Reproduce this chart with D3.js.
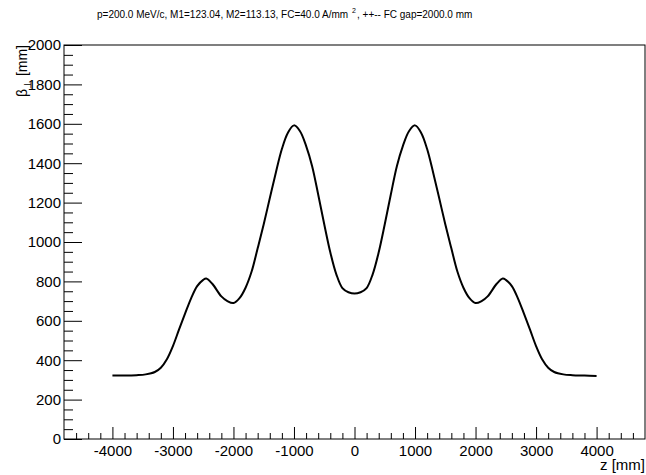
<!DOCTYPE html>
<html>
<head>
<meta charset="utf-8">
<script src="https://cdn.jsdelivr.net/npm/d3@7"></script>
<style>
  body { margin: 0; background: #fff; }
  text { font-family: "Liberation Sans", Arial, sans-serif; fill: #000; }
</style>
</head>
<body>
<svg id="chart" width="646" height="475"></svg>
<script>
// beta function along z
var zValues = [-4000, -3800, -3600, -3450, -3300, -3200, -3100, -3000, -2900, -2800, -2700, -2600, -2500, -2450, -2350, -2200, -2100, -2000, -1900, -1800, -1700, -1600, -1500, -1400, -1300, -1200, -1100, -1000, -900, -800, -700, -600, -500, -400, -300, -200, -100, 0,
  100, 200, 300, 400, 500, 600, 700, 800, 900, 1000, 1100, 1200, 1300, 1400, 1500, 1600, 1700, 1800, 1900, 2000, 2100, 2200, 2350, 2450, 2500, 2600, 2700, 2800, 2900, 3000, 3100, 3200, 3300, 3450, 3600, 3800, 4000];
var betaValues = [322, 322, 324, 328, 340, 362, 405, 472, 555, 636, 714, 776, 808, 815, 788, 724, 700, 690, 715, 768, 850, 968, 1090, 1222, 1352, 1472, 1555, 1592, 1562, 1488, 1385, 1241, 1090, 948, 836, 766, 745, 738,
  745, 766, 836, 948, 1090, 1241, 1385, 1488, 1562, 1592, 1555, 1472, 1352, 1222, 1090, 968, 850, 768, 715, 690, 700, 724, 788, 815, 808, 776, 714, 636, 555, 472, 405, 362, 340, 328, 324, 322, 320];

var xMajor = [-4000, -3000, -2000, -1000, 0, 1000, 2000, 3000, 4000];
var yMajor = [0, 200, 400, 600, 800, 1000, 1200, 1400, 1600, 1800, 2000];

var titleMain = "p=200.0 MeV/c, M1=123.04, M2=113.13, FC=40.0 A/mm";
var titleSup = "2";
var titleRest = ", ++-- FC gap=2000.0 mm";

var svg = d3.select("#chart");
var padL = 64, padR = 645, padT = 45, padB = 439;

var x = d3.scaleLinear().domain([-4800, 4800]).range([padL, padR]);
var y = d3.scaleLinear().domain([0, 2000]).range([padB, padT]);

// plain hyphen minus like the original
var fmt = function(d){ return String(d); };

// minor ticks every 200 on x, 50 on y
var xMinor = d3.range(-4600, 4800, 200).filter(function(v){ return v % 1000 !== 0; });
var yMinor = d3.range(50, 2000, 50).filter(function(v){ return v % 200 !== 0; });

svg.append("g")
  .attr("transform", "translate(0," + padB + ")")
  .call(d3.axisBottom(x).tickValues(xMinor).tickSizeInner(-6).tickSizeOuter(0).tickFormat(""));
svg.append("g")
  .attr("transform", "translate(0," + padB + ")")
  .call(d3.axisBottom(x).tickValues(xMajor).tickSizeInner(-12).tickSizeOuter(0).tickPadding(6).tickFormat(fmt))
  .call(function(g){ g.selectAll("text").style("font-size", "15px"); });

svg.append("g")
  .attr("transform", "translate(" + padL + ",0)")
  .call(d3.axisLeft(y).tickValues(yMinor).tickSizeInner(-9).tickSizeOuter(0).tickFormat(""));
svg.append("g")
  .attr("transform", "translate(" + padL + ",0)")
  .call(d3.axisLeft(y).tickValues(yMajor).tickSizeInner(-18).tickSizeOuter(0).tickPadding(3).tickFormat(fmt))
  .call(function(g){ g.selectAll("text").style("font-size", "15px"); });

svg.selectAll(".domain").remove();
svg.selectAll(".tick line").attr("stroke", "#000");
svg.selectAll(".tick text").attr("fill", "#000");

svg.append("rect")
  .attr("x", padL).attr("y", padT)
  .attr("width", padR - padL).attr("height", padB - padT)
  .attr("fill", "none").attr("stroke", "#000").attr("stroke-width", 1);

var line = d3.line()
  .x(function(d, i){ return x(zValues[i]); })
  .y(function(d){ return y(d); })
  .curve(d3.curveCatmullRom.alpha(0.5));

svg.append("path")
  .datum(betaValues)
  .attr("d", line)
  .attr("fill", "none")
  .attr("stroke", "#000")
  .attr("stroke-width", 2);

// title
svg.append("text").attr("x", 97).attr("y", 18).style("font-size", "10px").text(titleMain);
svg.append("text").attr("x", 352).attr("y", 13).style("font-size", "7px").text(titleSup);
svg.append("text").attr("x", 357).attr("y", 18).style("font-size", "10px").text(titleRest);

// axis titles
svg.append("text")
  .attr("x", padR).attr("y", 470)
  .attr("text-anchor", "end")
  .style("font-size", "15px")
  .text("z [mm]");

var yt = svg.append("text")
  .attr("transform", "translate(27," + padT + ") rotate(-90)")
  .attr("text-anchor", "end")
  .style("font-size", "14px");
yt.append("tspan").text("β");
yt.append("tspan").attr("dy", 4).style("font-size", "10px").text("⊥");
yt.append("tspan").attr("dy", -4).text(" [mm]");
</script>
</body>
</html>
